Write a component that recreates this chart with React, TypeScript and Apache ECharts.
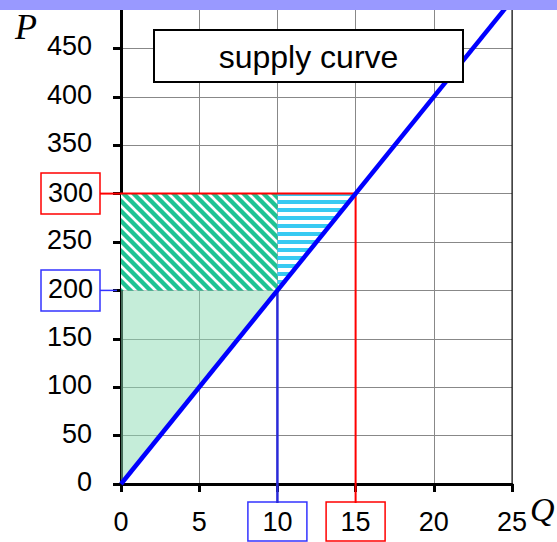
import React, { useEffect, useRef } from 'react';
import * as echarts from 'echarts';

// ---- data ----
const supplyQ = [0, 25];
const supplyP = [0, 500];
const lowPrice = 200;
const highPrice = 300;
const lowQ = 10;
const highQ = 15;
const xMin = 0, xMax = 25, xStep = 5;
const yMin = 0, yMax = 500, yStep = 50;
const legendLabel = 'supply curve';
const xName = 'Q';
const yName = 'P';

const FONT = "'Liberation Sans', Arial, sans-serif";
const SERIF = "'Liberation Serif', 'DejaVu Serif', serif";
const EXTRA = 20; // canvas extends below the visible page so boxed labels can run off the edge
const X_LABEL_MARGIN = 24;

function makeTile(kind: 'diag' | 'horiz'): { src: string; w: number; h: number } {
  const c = document.createElement('canvas');
  if (kind === 'diag') {
    const s = 10;
    c.width = s; c.height = s;
    const ctx = c.getContext('2d')!;
    ctx.fillStyle = '#ffffff';
    ctx.fillRect(0, 0, s, s);
    ctx.strokeStyle = '#1fc393';
    ctx.lineWidth = 4.4;
    for (let k = -1; k <= 1; k++) {
      ctx.beginPath();
      ctx.moveTo(k * s - 2, -2);
      ctx.lineTo(k * s + s + 2, s + 2);
      ctx.stroke();
    }
    return { src: c.toDataURL(), w: s, h: s };
  }
  const w = 8, h = 8;
  c.width = w; c.height = h;
  const ctx = c.getContext('2d')!;
  ctx.clearRect(0, 0, w, h);
  ctx.fillStyle = '#38caf2';
  ctx.fillRect(0, 0, w, 4);
  return { src: c.toDataURL(), w, h };
}

export default function App() {
  const ref = useRef<HTMLDivElement>(null);
  useEffect(() => {
    if (!ref.current) return;
    const chart = echarts.init(ref.current, undefined, { renderer: 'svg' });
    const diag = makeTile('diag');
    const horiz = makeTile('horiz');
    const fills: Record<string, any> = {
      fill: 'rgba(140,220,180,0.5)',
      diag: { type: 'pattern', image: diag.src, repeat: 'repeat', imageWidth: diag.w, imageHeight: diag.h },
      horiz: { type: 'pattern', image: horiz.src, repeat: 'repeat', imageWidth: horiz.w, imageHeight: horiz.h },
    };
    const regions = [
      { kind: 'fill', pts: [[0, 0], [lowQ, lowPrice], [0, lowPrice]] },
      { kind: 'diag', pts: [[0, lowPrice], [lowQ, lowPrice], [lowQ, highPrice], [0, highPrice]] },
      { kind: 'horiz', pts: [[lowQ, lowPrice], [highQ, highPrice], [lowQ, highPrice]] },
    ];
    const supplyData = supplyQ.map((q, i) => [q, supplyP[i]]);

    const axisLineStyle = { color: '#000', width: 3 };
    const option: any = {
      animation: false,
      grid: { left: 121, right: 45, top: 0, bottom: 58 + EXTRA, containLabel: false, outerBoundsMode: 'none' },
      xAxis: {
        type: 'value', min: xMin, max: xMax, interval: xStep,
        axisLine: { show: true, lineStyle: axisLineStyle },
        axisTick: { show: true, length: 8, lineStyle: { color: '#000', width: 3 } },
        splitLine: { show: true, lineStyle: { color: '#888', width: 1 } },
        axisLabel: {
          margin: X_LABEL_MARGIN,
          verticalAlign: 'top',
          formatter: (v: number) => (v === lowQ ? `{b|${v}}` : v === highQ ? `{r|${v}}` : `{n|${v}}`),
          rich: {
            n: { fontFamily: FONT, fontSize: 27, lineHeight: 27, color: '#000' },
            b: { fontFamily: FONT, fontSize: 27, lineHeight: 27, color: '#000', padding: [6, 14, 6, 14], width: 31, align: 'center', borderColor: '#3333ff', borderWidth: 1.5 },
            r: { fontFamily: FONT, fontSize: 27, lineHeight: 27, color: '#000', padding: [6, 14, 6, 14], width: 31, align: 'center', borderColor: '#ff0000', borderWidth: 1.5 },
          },
        },
      },
      yAxis: {
        type: 'value', min: yMin, max: yMax, interval: yStep,
        axisLine: { show: true, lineStyle: axisLineStyle },
        axisTick: { show: true, length: 8, lineStyle: { color: '#000', width: 3 } },
        splitLine: { show: true, lineStyle: { color: '#888', width: 1 } },
        axisLabel: {
          margin: 21,
          showMaxLabel: false,
          formatter: (v: number) => (v === highPrice ? `{r|${v}}` : v === lowPrice ? `{b|${v}}` : `{n|${v}}`),
          rich: {
            n: { fontFamily: FONT, fontSize: 27, lineHeight: 27, color: '#000', padding: [0, 8, 4, 0] },
            r: { fontFamily: FONT, fontSize: 27, lineHeight: 27, color: '#000', padding: [6, 6, 8, 6], width: 47, align: 'center', borderColor: '#ff0000', borderWidth: 1.5 },
            b: { fontFamily: FONT, fontSize: 27, lineHeight: 27, color: '#000', padding: [6, 6, 8, 6], width: 47, align: 'center', borderColor: '#3333ff', borderWidth: 1.5 },
          },
        },
      },
      series: [
        {
          type: 'custom',
          name: 'regions',
          data: regions.map((r) => r.pts[0]),
          renderItem: (params: any, api: any) => {
            const r = regions[params.dataIndex];
            return {
              type: 'polygon',
              shape: { points: r.pts.map((p) => api.coord(p)) },
              style: { fill: fills[r.kind], stroke: null },
            };
          },
          z: 2,
        },
        {
          type: 'line', name: 'high price', data: [[0, highPrice], [highQ, highPrice], [highQ, 0]],
          symbol: 'none', lineStyle: { color: '#ff0000', width: 2 }, z: 3,
        },
        {
          type: 'line', name: 'low quantity', data: [[lowQ, lowPrice], [lowQ, 0]],
          symbol: 'none', lineStyle: { color: '#2a2ad8', width: 2.5 }, z: 3,
        },
        {
          type: 'line', name: legendLabel, data: supplyData,
          symbol: 'none', lineStyle: { color: '#0000ff', width: 4.5 }, z: 4,
        },
      ],
    };
    chart.setOption(option);

    const px = (q: number, p: number) => chart.convertToPixel({ gridIndex: 0 }, [q, p]) as number[];
    const hi = px(highQ, highPrice);
    const lo = px(lowQ, lowPrice);
    const origin = px(0, 0);
    const corner = px(xMax, yMax);
    const yBoxEdge = 100;
    const xBoxEdge = origin[1] + X_LABEL_MARGIN - 5;
    chart.setOption({
      graphic: [
        { type: 'line', z: 50, shape: { x1: corner[0], y1: corner[1], x2: corner[0], y2: origin[1] }, style: { stroke: '#000', lineWidth: 1 } },
        { type: 'line', z: 50, shape: { x1: yBoxEdge, y1: hi[1], x2: origin[0], y2: hi[1] }, style: { stroke: '#ff0000', lineWidth: 2 } },
        { type: 'line', z: 50, shape: { x1: hi[0], y1: origin[1], x2: hi[0], y2: xBoxEdge }, style: { stroke: '#ff0000', lineWidth: 2 } },
        { type: 'line', z: 50, shape: { x1: yBoxEdge, y1: lo[1], x2: origin[0] - 4, y2: lo[1] }, style: { stroke: '#3333ff', lineWidth: 1.5 } },
        { type: 'line', z: 50, shape: { x1: lo[0], y1: origin[1], x2: lo[0], y2: xBoxEdge }, style: { stroke: '#2a2ad8', lineWidth: 2.5 } },
        { type: 'rect', zlevel: 1, z: 60, shape: { x: 154, y: 30, width: 309, height: 52 }, style: { fill: '#fff', stroke: '#000', lineWidth: 2 } },
        { type: 'text', zlevel: 1, z: 61, x: 308.5, y: 57, style: { text: legendLabel, fontFamily: FONT, fontSize: 32, fill: '#000', textAlign: 'center', textVerticalAlign: 'middle' } },
        { type: 'text', zlevel: 1, z: 60, x: 15, y: 9, style: { text: yName, fontFamily: SERIF, fontStyle: 'italic', fontSize: 36, fill: '#000' } },
        { type: 'text', zlevel: 1, z: 60, x: 530, y: 492, style: { text: xName, fontFamily: SERIF, fontStyle: 'italic', fontSize: 34, fill: '#000' } },
        { type: 'rect', zlevel: 1, z: 100, shape: { x: 0, y: 0, width: 557, height: 10 }, style: { fill: '#9999ff' } },
      ],
    });

    return () => chart.dispose();
  }, []);
  return <div ref={ref} style={{ position: 'fixed', left: 0, top: 0, width: 557, height: 542 + EXTRA, background: '#fff' }} />;
}
